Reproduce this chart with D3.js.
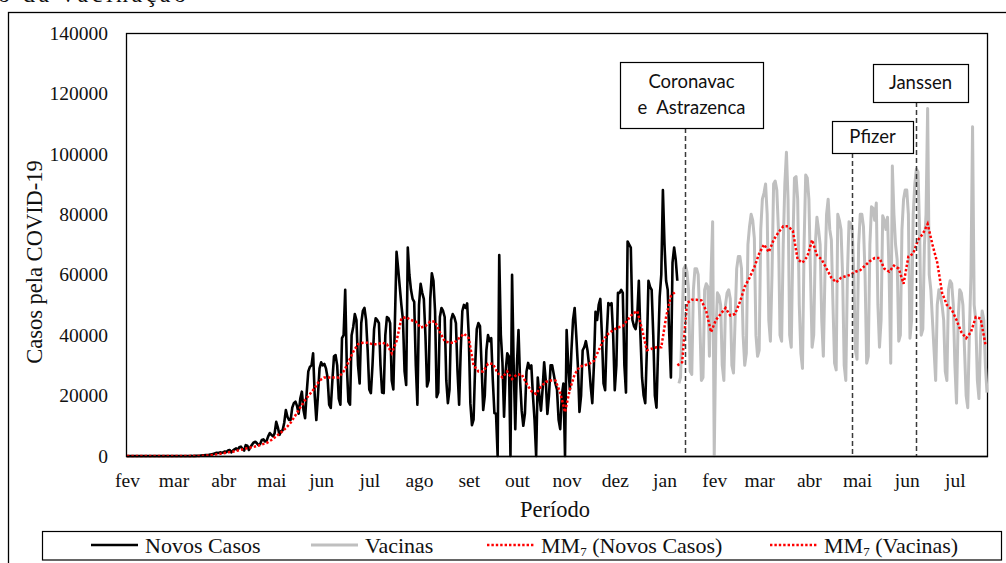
<!DOCTYPE html>
<html>
<head>
<meta charset="utf-8">
<script src="https://cdn.jsdelivr.net/npm/d3@7"></script>
<style>
  body { margin: 0; background: #fff; }
  svg { display: block; }
</style>
</head>
<body>
<svg id="chart" width="1006" height="563"></svg>
<script>
// series dates
const inicioSerie = "2020-02-01";
const fimEixo = "2021-07-21";
const inicioVacinas = "2021-01-10";
const inicioMM7Vacinas = "2021-01-09";
const passoMM7 = 3; // MM7 values read every 3 days

const meses = ["fev", "mar", "abr", "mai", "jun", "jul", "ago", "set", "out", "nov", "dez", "jan",
               "fev", "mar", "abr", "mai", "jun", "jul"];
const yTicks = [0, 20000, 40000, 60000, 80000, 100000, 120000, 140000];

// daily new cases, from 2020-02-01
const novosCasos = [
    0,0,0,0,0,0,0,0,0,0,0,0,0,0,0,0,0,0,0,0,0,0,0,0,0,
    1,0,0,0,1,0,0,0,1,1,2,5,6,12,10,25,20,30,50,70,
    100,150,200,250,300,350,400,500,600,700,900,1100,
    1000,1200,1100,1200,
    1500,1300,1800,2000,1200,1800,2200,2500,2000,2900,
    3100,2300,1800,3600,3400,2000,3000,3800,4500,4700,
    4200,3600,4000,5300,5500,4800,5000,6500,7600,7000,
    6500,7500,11300,9500,7000,8200,8500,11000,15200,13000,
    11900,12000,16000,17500,18000,16500,14000,19000,21300,15200,
    12500,21000,28000,29500,30000,34000,20000,11900,20000,29000,
    31000,30000,30500,29000,26000,17000,15900,25000,33000,33400,
    30000,19000,17000,39000,40000,55000,30000,18000,17000,40000,
    42700,47000,45000,30000,24000,44000,48000,49000,45000,35000,
    22000,20800,30000,42000,45600,45000,44000,30000,21000,20800,
    40000,46000,45600,44000,25000,22000,45000,67600,62000,56000,
    50000,45000,28000,23500,69000,60000,55000,52000,51000,30000,
    17000,50000,57000,54000,52000,40000,23000,25000,52000,60500,
    58000,48000,19500,21000,46000,49000,48000,46000,25000,17500,
    22000,45000,47000,46000,44000,28000,17000,35000,48000,50000,
    49000,50500,40000,17500,10200,12000,30000,42000,44000,43000,
    30000,15200,20000,35000,40000,38000,39000,25000,14200,14000,
    0,66500,40000,31000,13000,28000,34000,33000,0,60000,
    30000,8900,30000,41700,25000,15000,10000,14000,28000,30800,
    29000,30000,20000,12000,0,26000,20000,15000,22000,31000,
    25000,13900,20000,30000,30000,27000,24000,22000,12000,8900,
    20000,24000,0,41700,30000,22000,35000,45000,49000,40000,
    30000,14600,20000,35000,36000,38000,35000,30000,23000,17500,
    30000,47700,45000,50000,52000,40000,24000,21800,40000,50600,
    50000,50600,40000,21800,30000,54000,54000,55000,54000,30000,
    21000,71000,70000,69000,45000,43000,42000,46000,58000,40000,
    26000,20000,17500,35000,58000,56000,55000,40000,20000,16000,
    35000,52700,60000,88000,70000,58000,55000,40000,26000,64000,
    69000,65000,58000
];

// daily values of the "Vacinas" series, from 2021-01-10
const vacinas = [
    24000,26000,45000,62000,63000,61000,55000,28000,27000,55000,
    62000,62000,60000,45000,25000,26000,55000,57000,56000,33000,
    60000,77500,0,40000,54000,53000,50000,30000,25000,50000,
    54000,55000,52000,30000,27500,45000,62000,66000,66000,62000,
    40000,30000,34000,70000,76000,80000,78000,72000,40000,33000,
    35000,75000,85000,87000,90000,80000,45000,38000,60000,90000,
    91000,88000,75000,40000,38000,70000,90000,100500,85000,40000,
    36000,70000,92000,92500,85000,50000,34000,29000,70000,93000,
    92000,85000,60000,36000,40000,70000,79000,75000,70000,45000,
    33000,60000,80000,85000,75000,71500,50000,30700,28500,80000,
    78000,75000,60000,30000,25000,60000,77500,77000,75000,60000,
    35000,32000,70000,80000,80000,76000,60000,30700,33000,70000,
    82500,82000,78000,83700,50000,36000,45000,79500,78000,75000,
    79000,60000,30700,96000,80000,70000,65000,38000,40000,75000,
    85000,88000,88000,80000,39000,45000,80000,90000,95000,94000,
    75000,40000,42000,70000,80000,115000,60000,55000,45000,35000,
    25000,50000,55000,53000,50000,45000,28000,25000,55000,58000,
    57000,50000,30000,17500,45000,55000,54000,50000,35000,20000,
    16000,40000,60000,109000,50000,45000,25000,19000,40000,48000,
    45000,30000,21000
];

// 7-day moving averages, one value every 3 days
const mm7NovosCasos = [
    0,0,0,0,0,0,0,0,0,0,0,0,0,0,0,0,
    100,200,400,600,900,1200,1400,1800,2200,2600,2900,3300,3800,4300,5300,6500,
    7800,9200,11000,13500,16000,18500,20500,22500,25000,26000,26000,26000,26000,
    28000,31000,34500,37000,37500,37500,37000,37000,37500,37000,34000,38000,
    45500,46000,45000,44500,42500,43000,44500,44500,41000,38000,37500,37500,
    39000,40500,39000,30000,28000,28000,30500,30500,27500,26000,28000,25500,
    27000,27000,24000,21500,20500,23000,24500,25000,25000,21000,14500,22000,
    27000,29500,30000,30500,31500,35000,38500,40500,41700,42500,43000,45000,
    47000,48000,42000,35000,35500,36000,36000,46000,53000,54500
];
const mm7Vacinas = [
    30000,31000,50600,51700,51700,51500,48000,41000,45000,47000,
    49000,46500,47000,51000,56000,59000,62500,67000,70000,67500,
    71500,74000,76000,76000,74500,65000,64000,66000,71500,66500,
    65000,62000,59000,57500,59000,59500,60000,61000,61500,63000,
    64500,65500,65500,62000,61000,63000,62000,57000,66000,67000,
    71500,73500,76800,70000,64000,54000,50000,48500,45000,41000,
    39000,41000,46000,45500,37000
];

// vaccine start markers
const eventos = [["Coronavac", "e  Astrazenca"], ["Pfizer"], ["Janssen"]];
const datasEventos = ["2021-01-14", "2021-04-28", "2021-06-07"];

const legendaNomes = ["Novos Casos", "Vacinas", "(Novos Casos)", "(Vacinas)"];

// ---------------------------------------------------------------
const serif = '"Liberation Serif", "Times New Roman", serif';
const sans = 'Lato, "Open Sans", sans-serif';
const textColor = "#111";
const plot = {left: 126, right: 987, top: 33, bottom: 456};

let svg = d3.select("#chart");
let parse = d3.utcParse("%Y-%m-%d");

function toPoints(values, start, step) {
    let d0 = parse(start);
    return values.map(function(v, i) {
        return {date: d3.utcDay.offset(d0, i * step), value: v};
    });
}

let xScale = d3.scaleUtc()
    .domain([parse(inicioSerie), parse(fimEixo)])
    .range([plot.left + 1, plot.right]);

let yScale = d3.scaleLinear()
    .domain([0, 140000])
    .range([plot.bottom, plot.top]);

let line = d3.line()
    .x(function(d) { return xScale(d.date); })
    .y(function(d) { return yScale(d.value); });

// caption cut at the top of the picture
svg.append("text")
    .attr("x", -2).attr("y", 2)
    .attr("textLength", 188).attr("lengthAdjust", "spacing")
    .style("font-family", serif).style("font-size", "24px").style("fill", textColor)
    .text("o da vacinação");

// outer frame
svg.append("rect")
    .attr("x", 8.5).attr("y", 12.5)
    .attr("width", 1010).attr("height", 600)
    .attr("fill", "none").attr("stroke", "#000").attr("stroke-width", 1.3);

// plot frame
svg.append("rect")
    .attr("x", plot.left + 0.5).attr("y", plot.top + 0.5)
    .attr("width", plot.right - plot.left).attr("height", plot.bottom - plot.top)
    .attr("fill", "#fff").attr("stroke", "#000").attr("stroke-width", 1.3);

// series
svg.append("path")
    .datum(toPoints(vacinas, inicioVacinas, 1))
    .attr("d", line)
    .attr("fill", "none").attr("stroke", "#bfbfbf")
    .attr("stroke-width", 3).attr("stroke-linejoin", "round");

svg.append("path")
    .datum(toPoints(novosCasos, inicioSerie, 1))
    .attr("d", line)
    .attr("fill", "none").attr("stroke", "#000")
    .attr("stroke-width", 2.6).attr("stroke-linejoin", "round");

[[mm7NovosCasos, inicioSerie], [mm7Vacinas, inicioMM7Vacinas]].forEach(function(s) {
    svg.append("path")
        .datum(toPoints(s[0], s[1], passoMM7))
        .attr("d", line)
        .attr("fill", "none").attr("stroke", "#ff0000")
        .attr("stroke-width", 2.5).attr("stroke-dasharray", "2.4,2");
});

// bottom axis line a bit heavier
svg.append("line")
    .attr("x1", plot.left).attr("x2", plot.right + 1)
    .attr("y1", plot.bottom + 0.5).attr("y2", plot.bottom + 0.5)
    .attr("stroke", "#000").attr("stroke-width", 1.6);

// event markers
let boxes = [
    {x: 620, y: 62, w: 143, h: 66},
    {x: 832, y: 121, w: 81, h: 32},
    {x: 873, y: 64, w: 95, h: 38}
];
eventos.forEach(function(ev, i) {
    let xe = Math.round(xScale(parse(datasEventos[i]))) + 0.5;
    let b = boxes[i];
    svg.append("line")
        .attr("x1", xe).attr("x2", xe)
        .attr("y1", b.y + b.h).attr("y2", plot.bottom)
        .attr("stroke", "#3a3a3a").attr("stroke-width", 1.5)
        .attr("stroke-dasharray", "5,3");
    svg.append("rect")
        .attr("x", b.x + 0.5).attr("y", b.y + 0.5)
        .attr("width", b.w).attr("height", b.h)
        .attr("fill", "#fff").attr("stroke", "#000").attr("stroke-width", 1.2);
    let t = svg.append("text")
        .attr("text-anchor", "middle")
        .style("font-family", sans).style("font-size", "18.5px").style("fill", textColor);
    ev.forEach(function(s, j) {
        t.append("tspan")
            .attr("x", b.x + b.w / 2)
            .attr("y", b.y + b.h / 2 + 6 - (ev.length - 1) * 13 + j * 26)
            .attr("xml:space", "preserve")
            .text(s);
    });
});

// x axis
let xAxis = svg.append("g")
    .attr("transform", "translate(0," + plot.bottom + ")")
    .call(d3.axisBottom(xScale)
        .tickValues(d3.utcMonth.range(parse(inicioSerie), parse(fimEixo)))
        .tickFormat(function(d, i) { return meses[i]; })
        .tickSize(0).tickPadding(17));
xAxis.select("path").remove();
xAxis.selectAll("text")
    .style("font-family", serif).style("font-size", "19.5px").style("fill", textColor);

// y axis
let yAxis = svg.append("g")
    .attr("transform", "translate(" + plot.left + ",0)")
    .call(d3.axisLeft(yScale).tickValues(yTicks).tickFormat(d3.format("d"))
        .tickSize(0).tickPadding(18));
yAxis.select("path").remove();
yAxis.selectAll("text")
    .style("font-family", serif).style("font-size", "19.5px").style("fill", textColor);

// axis titles
svg.append("text")
    .attr("x", 555).attr("y", 517)
    .attr("text-anchor", "middle")
    .style("font-family", serif).style("font-size", "22.5px").style("fill", textColor)
    .text("Período");

svg.append("text")
    .attr("transform", "translate(42," + 262 + ") rotate(-90)")
    .attr("text-anchor", "middle")
    .style("font-family", serif).style("font-size", "22.5px").style("fill", textColor)
    .text("Casos pela COVID-19");

// legend
svg.append("rect")
    .attr("x", 42.5).attr("y", 531.5)
    .attr("width", 959).attr("height", 28.5)
    .attr("fill", "#fff").attr("stroke", "#000").attr("stroke-width", 1.2);

let legendX = [91, 311, 487, 770];
let legendStyle = [
    {color: "#000", dash: null, w: 2.6},
    {color: "#bfbfbf", dash: null, w: 3},
    {color: "#ff0000", dash: "2.4,2", w: 2.5},
    {color: "#ff0000", dash: "2.4,2", w: 2.5}
];
legendaNomes.forEach(function(nome, i) {
    let lx = legendX[i];
    svg.append("line")
        .attr("x1", lx).attr("x2", lx + 47)
        .attr("y1", 545).attr("y2", 545)
        .attr("stroke", legendStyle[i].color)
        .attr("stroke-width", legendStyle[i].w)
        .attr("stroke-dasharray", legendStyle[i].dash);
    let t = svg.append("text")
        .attr("x", lx + 54).attr("y", 553)
        .style("font-family", serif).style("font-size", "22px").style("fill", textColor);
    if (i < 2) {
        t.text(nome);
    } else {
        t.append("tspan").text("MM");
        t.append("tspan").attr("dy", 3).style("font-size", "13px").text("7");
        t.append("tspan").attr("dy", -3).attr("xml:space", "preserve").text(" " + nome);
    }
});
</script>
</body>
</html>
